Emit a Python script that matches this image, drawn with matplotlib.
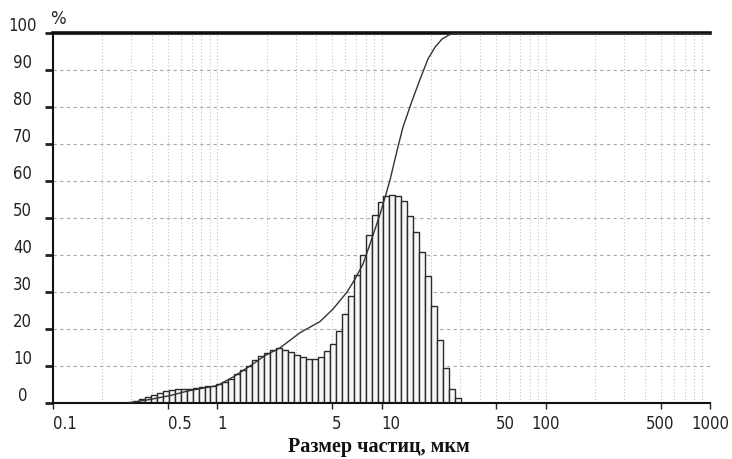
import numpy as np
import matplotlib.pyplot as plt
import matplotlib.transforms as mtransforms
from matplotlib.ticker import NullFormatter, LogLocator

# гистограмма: границы интервалов (мкм) и высоты столбцов (%)
bin_lo, bin_hi, n_bins = 0.282, 30.5, 56
hist_vals = [0.4, 0.6, 1.1, 1.5, 2.2, 2.7, 3.2, 3.5, 3.8, 3.8,
             3.9, 4.1, 4.4, 4.5, 4.7, 5.1, 5.8, 6.6, 7.8, 9.0,
             10.0, 11.5, 12.7, 13.6, 14.4, 14.8, 14.4, 13.8, 13.0, 12.5,
             12.0, 11.9, 12.3, 14.0, 16.0, 19.5, 24.0, 29.0, 34.5, 40.0,
             45.5, 50.8, 54.3, 56.0, 56.2, 55.9, 54.7, 50.6, 46.3, 40.9,
             34.4, 26.1, 17.1, 9.4, 3.8, 1.3]

# интегральная кривая
cum_x = [0.282, 0.339, 0.406, 0.516, 0.654, 0.819, 1.0, 1.247, 1.582, 1.953,
         2.41, 3.19, 4.22, 5.07, 6.17, 6.90, 7.72, 8.75, 9.79, 10.5,
         11.3, 12.4, 13.5, 15.3, 17.2, 19.2, 21.2, 23.4, 26.1, 29.2, 1000]
cum_y = [0, 0.5, 1.1, 2.0, 3.2, 4.0, 4.7, 7.0, 10.0, 12.8,
         14.9, 19.0, 22.0, 25.4, 30.0, 33.5, 37.6, 44.5, 51.0, 55.5,
         60.5, 68.0, 74.5, 81.5, 87.6, 93.0, 96.2, 98.4, 99.6, 100, 100]

x_ticks = [0.1, 0.5, 1, 5, 10, 50, 100, 500, 1000]
x_labels = ['0.1', '0.5', '1', '5', '10', '50', '100', '500', '1000']
y_ticks = [0, 10, 20, 30, 40, 50, 60, 70, 80, 90, 100]

fig = plt.figure(figsize=(7.32, 4.60), dpi=100)
ax = fig.add_axes([53/732, 1-404/460, 657/732, 370/460])

edges = np.geomspace(bin_lo, bin_hi, n_bins + 1)
ax.bar(edges[:-1], hist_vals, width=np.diff(edges), align='edge',
       facecolor='#f6f6f6', edgecolor='#2a2a2a', linewidth=1.0, zorder=2)
ax.plot(cum_x, cum_y, color='#333333', linewidth=1.0, zorder=3)

ax.set_xscale('log')
ax.set_xlim(0.1, 1000)
ax.set_ylim(0, 100)

# сетка
ax.xaxis.set_minor_locator(LogLocator(base=10, subs=np.arange(1, 10)))
ax.xaxis.set_minor_formatter(NullFormatter())
ax.grid(True, which='minor', axis='x', color='#c4c4c4', linestyle=(0, (1, 2)), linewidth=0.8, zorder=0)
ax.grid(True, which='major', axis='x', color='#c4c4c4', linestyle=(0, (1, 2)), linewidth=0.8, zorder=0)
ax.grid(True, which='major', axis='y', color='#a8a8a8', linestyle=(0, (3, 3)), linewidth=0.8, zorder=0)
ax.tick_params(axis='x', which='minor', length=0)

ax.spines['right'].set_visible(False)
ax.spines['top'].set_linewidth(2.6)
ax.spines['left'].set_linewidth(1.5)
ax.spines['bottom'].set_linewidth(1.5)
for s in ax.spines.values():
    s.set_color('#111111')

ax.set_xticks(x_ticks)
ax.set_xticklabels(x_labels)
ax.set_yticks(y_ticks)
ax.set_yticklabels([str(v) for v in y_ticks])
ax.tick_params(axis='x', which='major', length=4, width=1, pad=4, labelsize=12, colors='#222222')
ax.tick_params(axis='y', length=6, width=2, pad=16, labelsize=12, colors='#222222')

for lab, t in zip(ax.get_xticklabels(), x_ticks):
    lab.set_horizontalalignment('left' if t < 100 else 'center')
    lab.set_fontstretch('condensed')
shift = mtransforms.ScaledTranslation(0, 0.10, fig.dpi_scale_trans)
for lab in ax.get_yticklabels():
    lab.set_horizontalalignment('center')
    lab.set_fontstretch('condensed')
    lab.set_transform(lab.get_transform() + shift)

fig.text(58/732, 1-19/460, '%', fontsize=12, ha='center', va='center', color='#222222')
fig.text(379/732, 1-447/460, 'Размер частиц, мкм', fontsize=14.5, fontweight='bold',
         family='Liberation Serif', ha='center', va='center', color='#111111')

fig.savefig('out.png', dpi=100)
